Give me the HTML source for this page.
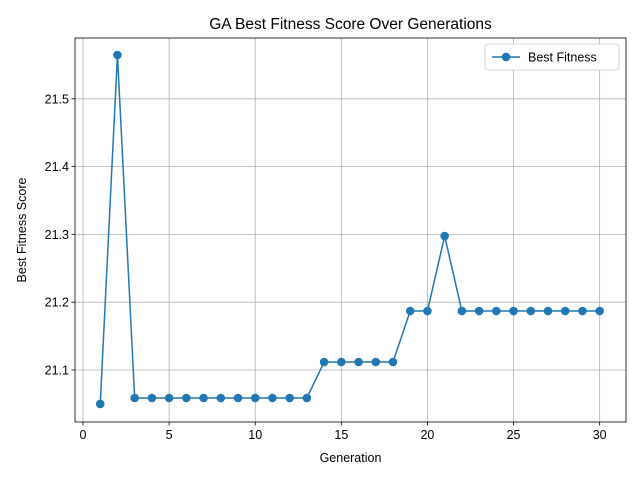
<!DOCTYPE html>
<html><head><meta charset="utf-8"><style>body{margin:0;background:#fff}svg{display:block;font-family:"Liberation Sans","DejaVu Sans",sans-serif}</style></head>
<body>
<svg id="chart" width="640" height="480"></svg>
<script>
const generations=[1,2,3,4,5,6,7,8,9,10,11,12,13,14,15,16,17,18,19,20,21,22,23,24,25,26,27,28,29,30];
const fitness=[21.050,21.5646,21.0587,21.0587,21.0587,21.0587,21.0587,21.0587,21.0587,21.0587,21.0587,21.0587,21.0587,21.1118,21.1118,21.1118,21.1118,21.1118,21.187,21.187,21.2976,21.187,21.187,21.187,21.187,21.187,21.187,21.187,21.187,21.187];
const xTicks=[0,5,10,15,20,25,30];
const yTicks=[21.1,21.2,21.3,21.4,21.5];
const L=75,R=626,T=38,B=422;
const xMin=-0.465,xMax=31.53,yMin=21.0233,yMax=21.5897;
const sx=v=>L+(v-xMin)/(xMax-xMin)*(R-L);
const sy=v=>B-(v-yMin)/(yMax-yMin)*(B-T);
const svg=document.getElementById('chart');const NS='http://www.w3.org/2000/svg';
function mk(t,a,p){const e=document.createElementNS(NS,t);for(const k in a)e.setAttribute(k,a[k]);(p||svg).appendChild(e);return e;}
xTicks.forEach(v=>{const x=sx(v);
const g=mk('line',{x1:x,x2:x,y1:T,y2:B,stroke:'#b0b0b0','stroke-width':0.8});

mk('line',{x1:x,x2:x,y1:B,y2:B+3.5,stroke:'#000','stroke-width':0.8});
const t=mk('text',{x:x,y:B+17,'text-anchor':'middle','font-size':12.5});t.textContent=v;
});
yTicks.forEach(v=>{const y=sy(v);
const g=mk('line',{x1:L,x2:R,y1:y,y2:y,stroke:'#b0b0b0','stroke-width':0.8});

mk('line',{x1:L-3.5,x2:L,y1:y,y2:y,stroke:'#000','stroke-width':0.8});
const t=mk('text',{x:L-6,y:y+4.5,'text-anchor':'end','font-size':12.5});t.textContent=v.toFixed(1);
});
const line=mk('polyline',{points:generations.map((g,i)=>sx(g)+','+sy(fitness[i])).join(' '),fill:'none',stroke:'#1f77b4','stroke-width':1.5});

generations.forEach((g,i)=>{const c=mk('circle',{cx:sx(g),cy:sy(fitness[i]),r:4.3,fill:'#1f77b4'});
});
const fr=mk('rect',{x:L,y:T,width:R-L,height:B-T,fill:'none',stroke:'#000','stroke-width':0.8});

const ti=mk('text',{x:(L+R)/2,y:29,'text-anchor':'middle','font-size':15.5});ti.textContent='GA Best Fitness Score Over Generations';

const xl=mk('text',{x:(L+R)/2,y:462,'text-anchor':'middle','font-size':12.5});xl.textContent='Generation';

const yl=mk('text',{x:0,y:0,'text-anchor':'middle','font-size':12.5,transform:'translate(26,230) rotate(-90)'});yl.textContent='Best Fitness Score';

const lg=mk('g',{});
mk('rect',{x:485,y:44,width:134,height:26,rx:3,fill:'#fff',stroke:'#ccc','stroke-width':0.8},lg);
mk('line',{x1:492,x2:520,y1:57,y2:57,stroke:'#1f77b4','stroke-width':1.5},lg);
mk('circle',{cx:506,cy:57,r:4.3,fill:'#1f77b4'},lg);
const lt=mk('text',{x:528,y:61.5,'font-size':12.5},lg);lt.textContent='Best Fitness';

</script>
</body></html>
